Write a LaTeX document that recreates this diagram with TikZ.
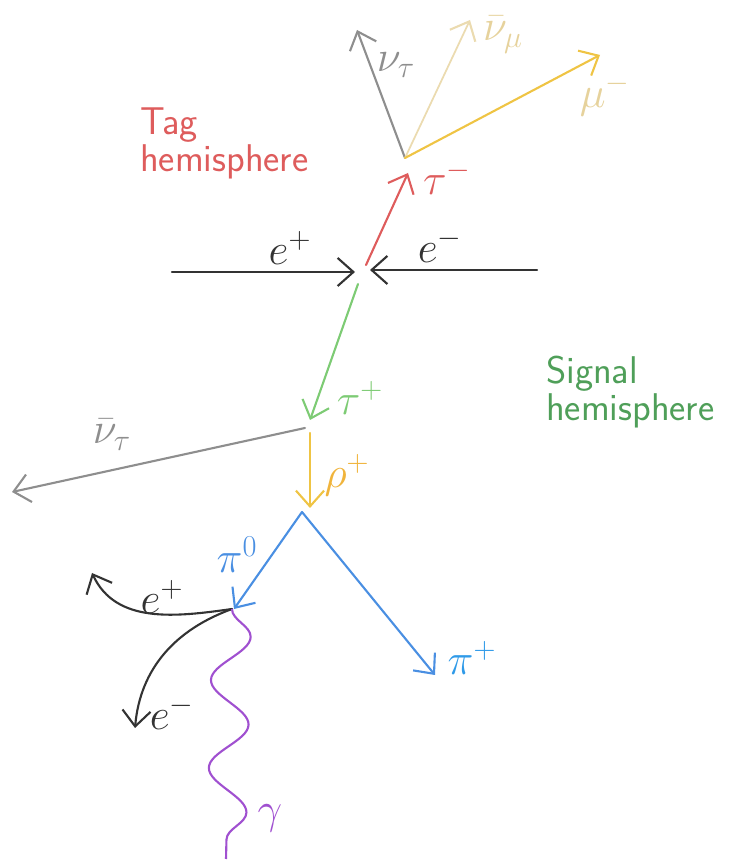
\documentclass[tikz,border=0pt]{standalone}
\usetikzlibrary{arrows.meta,decorations.pathmorphing}
\definecolor{ink}{HTML}{333333}
\definecolor{grayn}{HTML}{8E8E8E}
\definecolor{tagred}{HTML}{DE5C5C}
\definecolor{siggreen}{HTML}{7DCB74}
\definecolor{sigtext}{HTML}{4F9F59}
\definecolor{gold}{HTML}{EFC444}
\definecolor{sand}{HTML}{EBDBB0}
\definecolor{sandtext}{HTML}{E6D29C}
\definecolor{rhotext}{HTML}{F0B43C}
\definecolor{pion}{HTML}{4A8FE2}
\definecolor{piontext}{HTML}{2F9AE8}
\definecolor{photon}{HTML}{A050D0}

\tikzset{
  track/.style={line width=1.2pt,line cap=round,
    -{Straight Barb[length=9pt,width=16pt,line width=1.2pt]}},
  lbl/.style={font=\fontsize{26}{30}\selectfont,inner sep=1pt},
  hemi/.style={font=\sffamily\fontsize{22}{21}\selectfont,align=left,anchor=north west}
}

\begin{document}
\begin{tikzpicture}[x=0.02cm,y=0.02cm,font=\sffamily,text=ink,>=Latex]
  \useasboundingbox (0,0) rectangle (746,865);
  % vertices and track ends
  \coordinate (taumv) at (405,707);
  \coordinate (nut) at (357,835);
  \coordinate (numu) at (470,845);
  \coordinate (mu) at (600,810);
  \coordinate (taums) at (366,600);
  \coordinate (taume) at (408,692);
  \coordinate (eps) at (172,593);
  \coordinate (epe) at (355,593);
  \coordinate (ems) at (537,595);
  \coordinate (eme) at (370,595);
  \coordinate (taups) at (358,581);
  \coordinate (taupv) at (310,445);
  \coordinate (nubs) at (305,437);
  \coordinate (nub) at (12,373);
  \coordinate (rhos) at (310,432);
  \coordinate (rhoe) at (310,357);
  \coordinate (rhov) at (302,353);
  \coordinate (pizv) at (234,256);
  \coordinate (pip) at (435,190);
  \coordinate (dalv) at (232,256);
  \coordinate (epz) at (92,292);
  \coordinate (emz) at (135,137);
  \coordinate (gam) at (226,6);

  % tag side
  \draw[track,grayn] (taumv) -- (nut);
  \draw[track,sand,line width=1pt] (taumv) -- (numu);
  \draw[track,gold] (taumv) -- (mu);
  \draw[track,tagred] (taums) -- (taume);
  \node[lbl,grayn] (lnut) at (396,800) {$\nu_\tau$};
  \node[lbl,sandtext] (lnumu) at (503,830) {$\bar\nu_\mu$};
  \node[lbl,sandtext] (lmu) at (605,770) {$\mu^-$};
  \node[lbl,tagred] (ltaum) at (447,687) {$\tau^-$};
  \node[hemi,text=tagred] (tag) at (134,763) {Tag\\hemisphere};

  % beams
  \draw[track,ink] (eps) -- (epe);
  \draw[track,ink] (ems) -- (eme);
  \node[lbl] (lep) at (290,617) {$e^+$};
  \node[lbl] (lem) at (440,619) {$e^-$};

  % signal side
  \draw[track,siggreen] (taups) -- (taupv);
  \node[lbl,siggreen] (ltaup) at (360,467) {$\tau^+$};
  \node[hemi,text=sigtext] (sig) at (540,515) {Signal\\hemisphere};
  \draw[track,grayn] (nubs) -- (nub);
  \node[lbl,grayn] (lnub) at (112,430) {$\bar\nu_\tau$};
  \draw[track,gold] (rhos) -- (rhoe);
  \node[lbl,rhotext] (lrho) at (347,390) {$\rho^+$};
  \draw[track,pion] (rhov) -- (pizv);
  \draw[track,pion] (rhov) -- (pip);
  \node[lbl,pion] (lpiz) at (237,310) {$\pi^0$};
  \node[lbl,piontext] (lpip) at (472,207) {$\pi^+$};

  % pi0 Dalitz decay
  \draw[track,ink] (dalv) to[out=188,in=-65] (epz);
  \draw[track,ink] (dalv) to[out=200,in=85] (emz);
  \node[lbl] (lepz) at (162,268) {$e^+$};
  \node[lbl] (lemz) at (172,152) {$e^-$};
  \draw[photon,line width=1.2pt,decorate,
    decoration={snake,segment length=50,amplitude=11}] (dalv) -- (gam);
  \node[lbl,photon] (lgam) at (270,47) {$\gamma$};
\end{tikzpicture}
\end{document}
